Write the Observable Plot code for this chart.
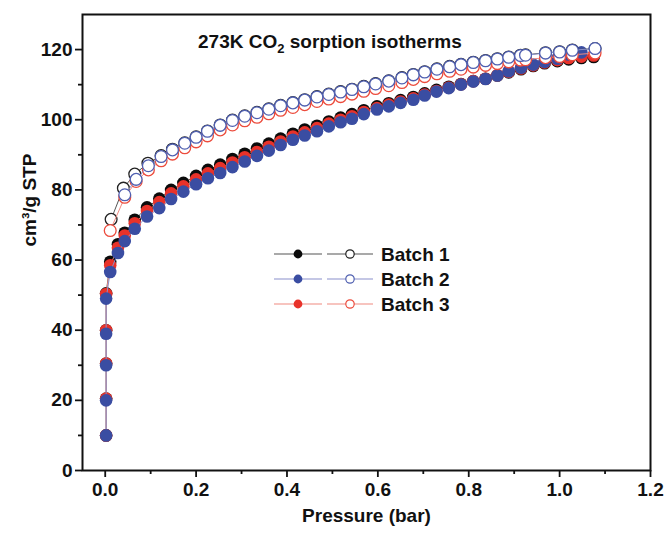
<!DOCTYPE html>
<html><head><meta charset="utf-8">
<script src="https://cdn.jsdelivr.net/npm/d3@7"></script>
<script src="https://cdn.jsdelivr.net/npm/@observablehq/plot@0.6"></script>
<style>
body{margin:0;background:#fff;}
#wrap{position:relative;width:665px;height:536px;font-family:"Liberation Sans",Arial,sans-serif;background:#fff;}
#title{position:absolute;left:198px;top:32px;font-size:19px;font-weight:bold;white-space:nowrap;line-height:1;color:#111;}
#title sub{font-size:13px;vertical-align:-5px;line-height:0;}
#legend{position:absolute;left:0;top:0;pointer-events:none;}
</style></head>
<body>
<div id="wrap"><div id="chart"></div><div id="title">273K CO<sub>2</sub> sorption isotherms</div><svg id="legend" width="665" height="536"></svg></div>
<script>
// ---- tick values ----
const xTicks = [0, 0.2, 0.4, 0.6, 0.8, 1.0, 1.2];
const xMinor = [0.1, 0.3, 0.5, 0.7, 0.9, 1.1];
const yTicks = [0, 20, 40, 60, 80, 100, 120];
const yMinor = [10, 30, 50, 70, 90, 110];

// ---- adsorption (filled symbols) ----
const pAds = [0.002, 0.002, 0.002, 0.002, 0.002, 0.011, 0.028, 0.043, 0.065, 0.092, 0.119, 0.145, 0.172, 0.2, 0.226, 0.253, 0.28, 0.307, 0.334, 0.36, 0.386, 0.413, 0.439, 0.466, 0.492, 0.518, 0.543, 0.569, 0.598, 0.624, 0.65, 0.678, 0.703, 0.729, 0.756, 0.783, 0.81, 0.837, 0.863, 0.888, 0.915, 0.942, 0.967, 0.995, 1.02, 1.048, 1.075];
const batch1Ads = [10, 20.5, 30.5, 40, 50.5, 59.5, 64.5, 67.8, 71.5, 75, 77.5, 80, 82, 84, 85.7, 87.2, 88.8, 90.3, 91.8, 93.2, 94.6, 96, 97.2, 98.3, 99.5, 100.6, 101.6, 102.7, 103.8, 104.7, 105.6, 106.5, 107.5, 108.5, 109.4, 110.2, 111, 111.7, 112.6, 113.5, 114.4, 115.3, 116.1, 116.7, 117.2, 117.6, 117.9];
const batch2Ads = [10, 20, 30, 39, 49, 56.6, 62, 65.4, 68.9, 72.4, 74.8, 77.4, 79.5, 81.6, 83.3, 84.8, 86.5, 88.1, 89.7, 91.2, 92.8, 94.3, 95.5, 96.7, 98.1, 99.3, 100.3, 101.6, 102.9, 103.8, 104.8, 105.7, 106.9, 108, 109, 110, 110.9, 111.6, 112.6, 113.8, 114.8, 115.7, 116.5, 117.4, 118.6, 119.2];
const batch3Ads = [10, 20.5, 30.5, 40, 50.3, 58.5, 63.5, 67, 70.5, 74, 76.5, 79, 81, 83, 84.7, 86.2, 87.8, 89.3, 90.8, 92.3, 93.8, 95.2, 96.4, 97.6, 98.9, 100, 101, 102.2, 103.3, 104.3, 105.2, 106.1, 107.2, 108.2, 109.2, 110.1, 111, 111.7, 112.7, 113.7, 114.6, 115.5, 116.3, 117, 117.6, 118, 118.3];

// ---- desorption (open symbols) ----
const pDes2 = [0.043, 0.068, 0.095, 0.123, 0.148, 0.175, 0.2, 0.225, 0.253, 0.28, 0.307, 0.334, 0.36, 0.386, 0.413, 0.439, 0.466, 0.492, 0.518, 0.543, 0.569, 0.595, 0.624, 0.653, 0.678, 0.703, 0.73, 0.758, 0.783, 0.81, 0.837, 0.863, 0.888, 0.914, 0.925, 0.969, 1.0, 1.028, 1.078];
const batch2Des = [78.6, 83, 86.9, 89.5, 91.4, 93.3, 95, 96.7, 98.4, 99.8, 101, 102, 103, 104, 104.8, 105.6, 106.5, 107.2, 107.9, 108.6, 109.4, 110.2, 111, 111.9, 112.8, 113.6, 114.4, 115.1, 115.7, 116.3, 116.8, 117.3, 117.8, 118.3, 118.4, 119, 119.3, 119.8, 120.3];
const pDes1 = [0.013, 0.04, 0.065, 0.094, 0.123, 0.148, 0.175, 0.2, 0.225, 0.253, 0.28, 0.307, 0.334, 0.36, 0.386, 0.413, 0.439, 0.466, 0.492, 0.518, 0.543, 0.569, 0.595, 0.624, 0.653, 0.678, 0.703, 0.73, 0.758, 0.783, 0.81, 0.837, 0.863, 0.888, 0.914, 0.925, 0.969, 1.0, 1.028, 1.078];
const batch1Des = [71.6, 80.5, 84.5, 87.6, 89.8, 91.6, 93.4, 95.1, 96.8, 98.5, 99.9, 101.1, 102.1, 103.1, 104.1, 104.9, 105.7, 106.6, 107.3, 108, 108.7, 109.5, 110.3, 111.1, 112, 112.9, 113.7, 114.5, 115.2, 115.8, 116.4, 116.9, 117.4, 117.9, 118.4, 118.5, 119.1, 119.4, 119.9, 120.3];
const pDes3 = [0.011, 0.043, 0.068, 0.095, 0.123, 0.148, 0.175, 0.2, 0.225, 0.253, 0.28, 0.307, 0.334, 0.36, 0.386, 0.413, 0.439, 0.466, 0.492, 0.518, 0.543, 0.569, 0.595, 0.624, 0.653, 0.678, 0.703, 0.73, 0.758, 0.783, 0.81, 0.837, 0.863, 0.888, 0.914, 0.925, 0.969, 1.0, 1.028, 1.078];
const batch3Des = [68.4, 77.9, 82.4, 85.7, 88.3, 90.2, 92, 93.7, 95.4, 97.1, 98.5, 99.7, 100.7, 101.7, 102.7, 103.5, 104.3, 105.2, 105.9, 106.6, 107.3, 108.1, 108.9, 109.7, 110.6, 111.5, 112.3, 113.1, 113.8, 114.4, 115, 115.5, 116, 116.5, 117, 117.1, 117.7, 118, 118.5, 119];

const batchNames = ["Batch 1", "Batch 2", "Batch 3"];
const dotColors = ["#0b0b0b", "#3a4da2", "#e8322a"];
const lineColors = ["#555555", "#8a90cc", "#f08a80"];
const openColors = ["#222222", "#4f5fb0", "#ec4b3c"];

const zip = (ps, vs) => vs.map((v, i) => ({p: ps[i], v}));
const ads = [zip(pAds, batch1Ads), zip(pAds, batch2Ads), zip(pAds, batch3Ads)];
const des = [zip(pDes1, batch1Des), zip(pDes2, batch2Des), zip(pDes3, batch3Des)];
const order = [0, 2, 1]; // black, red, blue on top

const marks = [
  Plot.axisX(xMinor, {tickSize: 4, tickFormat: () => "", label: null, strokeWidth: 1.8}),
  Plot.axisY(yMinor, {tickSize: 4, tickFormat: () => "", label: null, strokeWidth: 1.8}),
  Plot.axisX(xTicks, {tickSize: 7, tickPadding: 5, tickFormat: d3.format(".1f"), label: null, strokeWidth: 1.8}),
  Plot.axisY(yTicks, {tickSize: 7, tickPadding: 3, tickFormat: d3.format("d"), label: null, strokeWidth: 1.8}),
  Plot.frame({strokeWidth: 2, stroke: "#111"})
];
for (const i of order) {
  marks.push(Plot.line(ads[i], {x: "p", y: "v", stroke: lineColors[i], strokeWidth: 1}));
  marks.push(Plot.dot(ads[i], {x: "p", y: "v", r: 6.3, fill: dotColors[i], stroke: "none"}));
}
for (const i of order) {
  marks.push(Plot.line(des[i], {x: "p", y: "v", stroke: lineColors[i], strokeWidth: 1}));
  marks.push(Plot.dot(des[i], {x: "p", y: "v", r: 5.9, fill: "white", stroke: openColors[i], strokeWidth: 1.3}));
}
marks.push(Plot.text(["Pressure (bar)"], {text: d => d, frameAnchor: "bottom", dy: 51, fontSize: 19, fontWeight: "bold"}));
marks.push(Plot.text(["cm³/g STP"], {text: d => d, frameAnchor: "left", dx: -53, dy: 4, rotate: -90, fontSize: 19, fontWeight: "bold"}));

const chart = Plot.plot({
  width: 665, height: 536,
  marginTop: 14, marginRight: 15, marginBottom: 66, marginLeft: 82,
  x: {domain: [-0.05, 1.2]},
  y: {domain: [0, 130]},
  style: {fontFamily: "'Liberation Sans', Arial, sans-serif", fontSize: "19px", fontWeight: "bold", color: "#111", background: "white"},
  marks
});
document.getElementById("chart").appendChild(chart);

// ---- legend ----
const lg = d3.select("#legend");
const rowY = [254, 279, 304];
batchNames.forEach((name, i) => {
  const y = rowY[i];
  lg.append("line").attr("x1", 274).attr("x2", 322).attr("y1", y).attr("y2", y).attr("stroke", lineColors[i]).attr("stroke-width", 1.2);
  lg.append("line").attr("x1", 327).attr("x2", 373).attr("y1", y).attr("y2", y).attr("stroke", lineColors[i]).attr("stroke-width", 1.2);
  lg.append("circle").attr("cx", 298).attr("cy", y).attr("r", 4.4).attr("fill", dotColors[i]);
  lg.append("circle").attr("cx", 350).attr("cy", y).attr("r", 4.2).attr("fill", "white").attr("stroke", openColors[i]).attr("stroke-width", 1.2);
  lg.append("text").attr("x", 381).attr("y", y + 7).attr("font-family", "'Liberation Sans', Arial, sans-serif").attr("font-size", 19).attr("font-weight", "bold").attr("fill", "#111").text(name);
});
</script>
</body></html>
